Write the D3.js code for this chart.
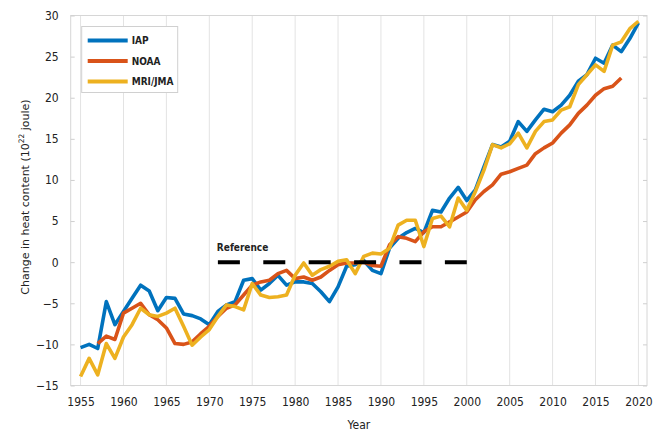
<!DOCTYPE html>
<html>
<head>
<meta charset="utf-8">
<script src="https://cdn.jsdelivr.net/npm/d3@7"></script>
<style>
  body { margin: 0; background: #fff; }
  svg text { font-family: "DejaVu Sans Condensed", "DejaVu Sans", sans-serif; fill: #222; }
</style>
</head>
<body>
<div id="chart"></div>
<script>
// Ocean heat content anomaly (10^22 J), 0-2000 m
const iapYears = d3.range(1955, 2021);
const iapValues = [
  -10.4, -10.0, -10.5, -4.8, -7.6, -6.0, -4.4, -2.8, -3.5, -5.9,
  -4.3, -4.4, -6.3, -6.5, -6.9, -7.6, -6.0, -5.2, -4.8, -2.2,
  -2.0, -3.4, -2.6, -1.6, -2.8, -2.4, -2.4, -2.6, -3.6, -4.8,
  -3.0, -0.5, -0.3, 0.2, -1.0, -1.4, 1.7, 2.9, 3.6, 4.1,
  3.6, 6.3, 6.1, 7.8, 9.1, 7.5, 8.8, 11.6, 14.3, 14.0,
  14.7, 17.1, 15.9, 17.3, 18.6, 18.3, 19.1, 20.3, 22.0, 22.8,
  24.8, 24.2, 26.4, 25.6, 27.2, 29.1
];

const noaaYears = d3.range(1957, 2019);
const noaaValues = [
  -9.9, -9.0, -9.4, -6.2, -5.6, -5.0, -6.4, -7.0, -8.0, -9.9,
  -10.0, -9.7, -8.7, -7.8, -6.6, -5.6, -5.2, -4.0, -2.8, -2.4,
  -2.2, -1.4, -1.0, -2.0, -1.8, -2.2, -1.8, -1.0, -0.3, -0.1,
  -0.1, 0.0, -0.4, -0.5, 2.1, 3.1, 2.9, 2.5, 3.7, 4.3,
  4.3, 4.9, 5.5, 6.1, 7.6, 8.6, 9.4, 10.7, 11.0, 11.4,
  11.8, 13.2, 13.9, 14.5, 15.7, 16.7, 18.1, 19.1, 20.3, 21.1,
  21.4, 22.4
];

const mriYears = d3.range(1955, 2021);
const mriValues = [
  -13.9, -11.7, -13.7, -9.9, -11.7, -9.1, -7.6, -5.6, -6.4, -6.6,
  -6.2, -5.6, -7.8, -10.1, -9.1, -8.2, -6.6, -5.2, -5.4, -5.8,
  -2.6, -4.0, -4.3, -4.2, -4.0, -1.6, -0.1, -1.6, -0.9, -0.5,
  0.1, 0.3, -1.4, 0.7, 1.1, 1.0, 1.7, 4.5, 5.1, 5.1,
  1.9, 5.3, 5.6, 4.3, 7.8, 6.3, 8.6, 11.2, 14.3, 13.9,
  14.4, 15.7, 13.9, 15.9, 17.1, 17.3, 18.5, 18.9, 21.6, 22.8,
  24.0, 23.2, 26.4, 26.8, 28.4, 29.3
];

const seriesNames = ["IAP", "NOAA", "MRI/JMA"];
const seriesColors = ["#0072bd", "#d95319", "#edb120"];

const referencePeriod = [1971, 2000];
const referenceLabel = "Reference";

const xTicks = d3.range(1955, 2021, 5);
const yTicks = d3.range(-15, 31, 5);

const width = 664, height = 434;
const margin = { top: 15.5, right: 17, bottom: 48.5, left: 70.7 };
const innerW = width - margin.left - margin.right;
const innerH = height - margin.top - margin.bottom;

const svg = d3.select("#chart").append("svg")
  .attr("width", width)
  .attr("height", height);

const g = svg.append("g")
  .attr("transform", `translate(${margin.left},${margin.top})`);

const x = d3.scaleLinear().domain([1953.85, 2021]).range([0, innerW]);
const y = d3.scaleLinear().domain([-15, 30]).range([innerH, 0]);

// vertical grid
g.append("g")
  .selectAll("line")
  .data(xTicks)
  .enter().append("line")
  .attr("x1", d => x(d)).attr("x2", d => x(d))
  .attr("y1", 0).attr("y2", innerH)
  .attr("stroke", "#e3e3e3")
  .attr("stroke-width", 1);

// frame
g.append("rect")
  .attr("width", innerW).attr("height", innerH)
  .attr("fill", "none")
  .attr("stroke", "#d6d6d6")
  .attr("stroke-width", 1);

// axes
const xAxis = d3.axisBottom(x).tickValues(xTicks).tickFormat(d3.format("d")).tickSize(0).tickPadding(12);
const yAxis = d3.axisLeft(y).tickValues(yTicks).tickSizeInner(-4).tickSizeOuter(0).tickPadding(12);
const yAxisR = d3.axisRight(y).tickValues(yTicks).tickSizeInner(-4).tickSizeOuter(0).tickFormat("");

const gx = g.append("g").attr("transform", `translate(0,${innerH})`).call(xAxis);
const gy = g.append("g").call(yAxis);
const gyr = g.append("g").attr("transform", `translate(${innerW},0)`).call(yAxisR);
[gx, gy, gyr].forEach(a => {
  a.select(".domain").remove();
  a.selectAll(".tick line").attr("stroke", "#cfcfcf");
  a.selectAll(".tick text").attr("font-size", 12).attr("fill", "#222");
});

// axis titles
svg.append("text")
  .attr("x", margin.left + innerW / 2)
  .attr("y", 429)
  .attr("text-anchor", "middle")
  .attr("font-size", 12)
  .text("Year");

const yt = svg.append("text")
  .attr("transform", "translate(29,197) rotate(-90)")
  .attr("text-anchor", "middle")
  .attr("font-size", 11)
  .style("font-family", "'DejaVu Sans', sans-serif");
yt.append("tspan").text("Change in heat content (10");
yt.append("tspan").attr("font-size", 7.5).attr("dy", -5).text("22");
yt.append("tspan").attr("dy", 5).text(" joule)");

// series
const line = d3.line().x(d => x(d[0])).y(d => y(d[1]));
const allSeries = [
  iapYears.map((yr, i) => [yr, iapValues[i]]),
  noaaYears.map((yr, i) => [yr, noaaValues[i]]),
  mriYears.map((yr, i) => [yr, mriValues[i]])
];

g.selectAll(".series")
  .data(allSeries)
  .enter().append("path")
  .attr("class", "series")
  .attr("d", line)
  .attr("fill", "none")
  .attr("stroke", (d, i) => seriesColors[i])
  .attr("stroke-width", 3.6)
  .attr("stroke-linejoin", "round");

// reference period
g.append("line")
  .attr("x1", x(referencePeriod[0])).attr("x2", x(referencePeriod[1]))
  .attr("y1", y(0)).attr("y2", y(0))
  .attr("stroke", "#000")
  .attr("stroke-width", 4)
  .attr("stroke-dasharray", "22 23.4");

g.append("text")
  .attr("x", x(referencePeriod[0]) - 1)
  .attr("y", y(0) - 11)
  .attr("font-size", 10)
  .attr("font-weight", "bold")
  .text(referenceLabel);

// legend
const legend = g.append("g").attr("transform", "translate(11,11)");
legend.append("rect")
  .attr("width", 96).attr("height", 66)
  .attr("fill", "#fff")
  .attr("stroke", "#d0d0d0");
seriesNames.forEach((name, i) => {
  const ly = 14 + i * 20.5;
  legend.append("line")
    .attr("x1", 6).attr("x2", 46)
    .attr("y1", ly).attr("y2", ly)
    .attr("stroke", seriesColors[i])
    .attr("stroke-width", 4);
  legend.append("text")
    .attr("x", 50).attr("y", ly + 3.5)
    .attr("font-size", 10)
    .attr("font-weight", "bold")
    .text(name);
});
</script>
</body>
</html>
